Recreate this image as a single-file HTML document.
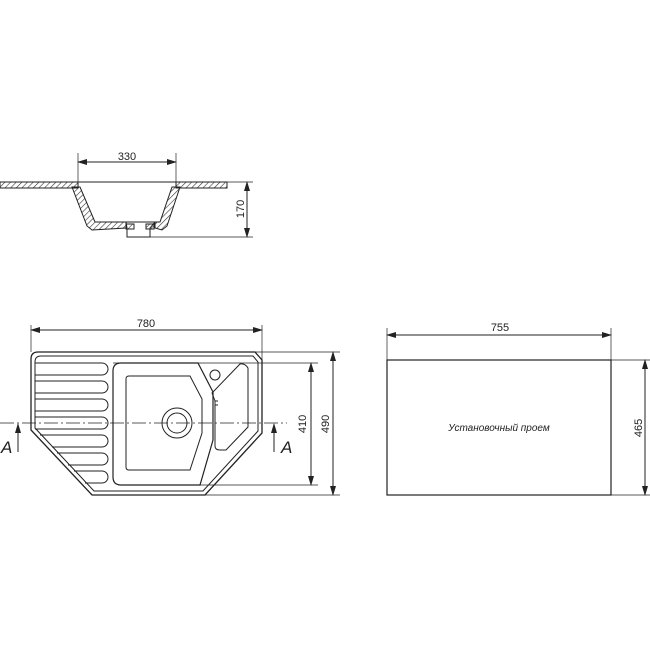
<!DOCTYPE html>
<html><head><meta charset="utf-8"><style>
html,body{margin:0;padding:0;background:#fff;}
svg{display:block;}
text{font-family:"Liberation Sans","DejaVu Sans",sans-serif;fill:#222;}
</style></head><body>
<svg width="650" height="650" viewBox="0 0 650 650" xmlns="http://www.w3.org/2000/svg">
<defs>
<pattern id="h" width="4" height="4" patternUnits="userSpaceOnUse" patternTransform="rotate(45)">
<line x1="0" y1="0" x2="0" y2="4" stroke="#333" stroke-width="1.2"/>
</pattern>
<marker id="a" markerWidth="10" markerHeight="6" refX="9" refY="3" orient="auto-start-reverse" markerUnits="userSpaceOnUse">
<path d="M0,0 L10,3 L0,6 z" fill="#222"/>
</marker>
</defs>
<g fill="none" stroke="#222" stroke-width="1">
<!-- top section view -->
<polygon points="0,182 78,182 78,188 0,188" fill="url(#h)"/>
<polygon points="176,182 227,182 227,188 176,188" fill="url(#h)"/>
<line x1="0" y1="182" x2="227" y2="182"/>
<polygon points="72,187 80,187 95,222 126,222 126,228 92,230 87,226" fill="url(#h)"/>
<polygon points="180,187 172,187 160,222 155,222 155,228 162,230 167,226" fill="url(#h)"/>
<polygon points="126,222 155,222 150,228 150,237 127,237 127,228" />
<rect x="126" y="224" width="8" height="5" fill="url(#h)"/>
<rect x="146" y="224" width="8" height="5" fill="url(#h)"/>
<line x1="78" y1="153" x2="78" y2="188" stroke-width="0.7"/>
<line x1="176" y1="153" x2="176" y2="188" stroke-width="0.7"/>
<line x1="78" y1="162" x2="176" y2="162" marker-start="url(#a)" marker-end="url(#a)"/>
<line x1="227" y1="182" x2="253" y2="182" stroke-width="0.7"/>
<line x1="150" y1="237" x2="253" y2="237" stroke-width="0.7"/>
<line x1="247" y1="182" x2="247" y2="237" marker-start="url(#a)" marker-end="url(#a)"/>

<!-- sink top view -->
<path d="M38,352 L255,352 L262,360 L262,433 L205,495 L92,495 L31,430 L31,359 Q31,352 38,352 Z" stroke-width="1.3"/>
<path d="M41,356 L253,356 L258,362 L258,431 L203,491 L94,491 L35,428 L35,362 Q35,356 41,356 Z"/>
<!-- ribs -->
<g>
<path d="M35,363 L102,363 A6,6 0 0 1 102,375 L35,375"/>
<path d="M35,381 L102,381 A6,6 0 0 1 102,393 L35,393"/>
<path d="M35,399 L102,399 A6,6 0 0 1 102,411 L35,411"/>
<path d="M35,417 L102,417 A6,6 0 0 1 102,429 L35,429"/>
<path d="M40,435 L102,435 A6,6 0 0 1 102,447 L52,447"/>
<path d="M57,453 L102,453 A6,6 0 0 1 102,465 L68,465"/>
<path d="M74,471 L102,471 A6,6 0 0 1 102,483 L85,483"/>
</g>
<!-- main bowl -->
<path d="M121,363 L198,363 L213,392 L213,440 L200,485 L121,485 Q113,485 113,477 L113,371 Q113,363 121,363 Z" stroke-width="1.2"/>
<path d="M129,376 L190,376 L202,399 L202,433 L190,470 L129,470 Q126,470 126,467 L126,379 Q126,376 129,376 Z"/>
<circle cx="177" cy="423" r="15"/>
<circle cx="177" cy="423" r="10"/>
<circle cx="215" cy="375" r="5"/>
<!-- side bowl -->
<path d="M212,393 L215,401 L215,446 Q215,450 220,450 L226,450 L248,427 L248,368 Q245,363 240,364 Z"/>
<line x1="215" y1="401" x2="218" y2="401"/>
<line x1="215" y1="405" x2="218" y2="405"/>
<!-- center line & section -->
<line x1="0" y1="423" x2="287" y2="423" stroke-dasharray="14,3,2,3" stroke-width="0.8"/>
<line x1="18" y1="452" x2="18" y2="424" marker-end="url(#a)"/>
<line x1="274" y1="452" x2="274" y2="424" marker-end="url(#a)"/>
<!-- dims -->
<line x1="31" y1="325" x2="31" y2="352" stroke-width="0.7"/>
<line x1="262" y1="325" x2="262" y2="360" stroke-width="0.7"/>
<line x1="31" y1="330" x2="262" y2="330" marker-start="url(#a)" marker-end="url(#a)"/>
<line x1="255" y1="352" x2="340" y2="352" stroke-width="0.7"/>
<line x1="113" y1="363" x2="318" y2="363" stroke-width="0.7"/>
<line x1="200" y1="485" x2="318" y2="485" stroke-width="0.7"/>
<line x1="205" y1="495" x2="340" y2="495" stroke-width="0.7"/>
<line x1="311" y1="363" x2="311" y2="485" marker-start="url(#a)" marker-end="url(#a)"/>
<line x1="333" y1="352" x2="333" y2="495" marker-start="url(#a)" marker-end="url(#a)"/>
<!-- right rect -->
<rect x="387" y="360" width="224" height="135" stroke-width="1.2"/>
<line x1="387" y1="328" x2="387" y2="360" stroke-width="0.7"/>
<line x1="611" y1="328" x2="611" y2="360" stroke-width="0.7"/>
<line x1="387" y1="335" x2="611" y2="335" marker-start="url(#a)" marker-end="url(#a)"/>
<line x1="611" y1="360" x2="650" y2="360" stroke-width="0.7"/>
<line x1="611" y1="495" x2="650" y2="495" stroke-width="0.7"/>
<line x1="645" y1="360" x2="645" y2="495" marker-start="url(#a)" marker-end="url(#a)"/>
</g>
<g font-size="11">
<text x="127" y="160" text-anchor="middle">330</text>
<text transform="translate(244,209) rotate(-90)" text-anchor="middle">170</text>
<text x="146" y="327" text-anchor="middle">780</text>
<text transform="translate(306,424) rotate(-90)" text-anchor="middle">410</text>
<text transform="translate(329,424) rotate(-90)" text-anchor="middle">490</text>
<text x="500" y="331" text-anchor="middle">755</text>
<text transform="translate(642,428) rotate(-90)" text-anchor="middle">465</text>
<text x="499" y="431" text-anchor="middle" font-style="italic" font-size="10">Установочный проем</text>
<text x="1" y="453" font-size="17" font-style="italic">A</text>
<text x="281" y="453" font-size="17" font-style="italic">A</text>
</g>
</svg>
</body></html>
